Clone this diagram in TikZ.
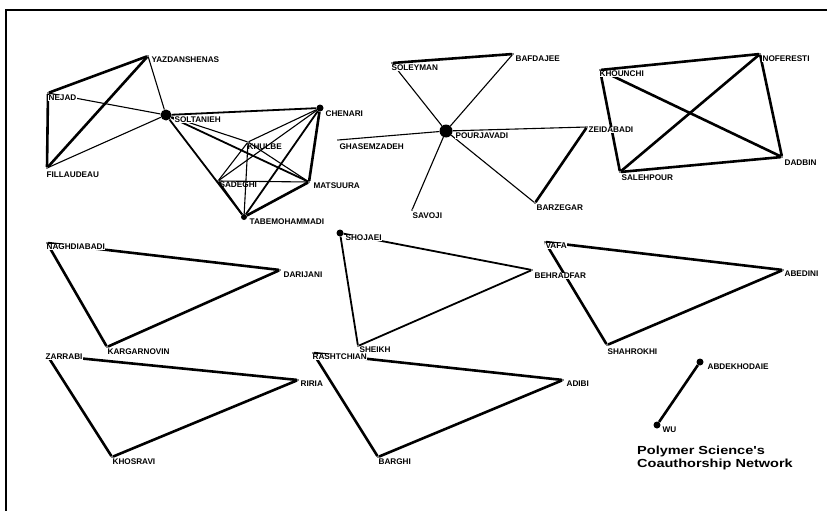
\documentclass[tikz,border=0pt]{standalone}
\usepackage{fontspec}
\setmainfont{Liberation Sans}
\newfontfamily\titlefont[FakeStretch=1.24]{Liberation Sans}
\begin{document}
\begin{tikzpicture}[x=1pt,y=-1pt,
  pt/.style={circle,fill=black,inner sep=0pt,minimum size=1.8pt},
  bigdot/.style={circle,fill=black,inner sep=0pt,minimum size=11pt},
  middot/.style={circle,fill=black,inner sep=0pt,minimum size=7pt},
  lab/.style={anchor=west,font=\fontsize{8.2}{9}\selectfont\bfseries,inner sep=0.4pt,fill=white},
  labn/.style={lab,fill=none},
  thk/.style={line width=2.6pt},
  med/.style={line width=1.8pt},
  thn/.style={line width=1.1pt},
  ttl/.style={anchor=base west,inner sep=0pt,font=\titlefont\bfseries\fontsize{11.7}{13}\selectfont}]
\useasboundingbox (0,0) rectangle (827,511);
\fill[white] (0,0) rectangle (827,511);
\draw[line width=1.4pt] (6,511) -- (6,10) -- (827,10);

% ---- nodes (points) ----
\node[pt] (yaz) at (148,56) {};
\node[pt] (nej) at (48,93) {};
\node[bigdot] (sol) at (166,115) {};
\node[middot] (che) at (320,108) {};
\node[pt] (khu) at (248,142) {};
\node[pt] (fil) at (47,168) {};
\node[pt] (sad) at (218,181) {};
\node[pt] (mat) at (309,182) {};
\node[middot,minimum size=6pt] (tab) at (244,217) {};

\node[pt] (soy) at (392,63) {};
\node[pt] (baf) at (513,54) {};
\node[bigdot,minimum size=13pt] (pou) at (446,131) {};
\node[pt] (gha) at (338,140) {};
\node[pt] (zei) at (587,127) {};
\node[pt] (bar) at (535,203) {};
\node[pt] (sav) at (412,210) {};

\node[pt] (kho) at (600,70) {};
\node[pt] (nof) at (760,54) {};
\node[pt] (sal) at (620,172) {};
\node[pt] (dad) at (782,157) {};

\node[pt] (nag) at (47,243) {};
\node[pt] (dar) at (280,270) {};
\node[pt] (kar) at (107,347) {};

\node[middot] (sho) at (340,233) {};
\node[pt] (beh) at (532,270) {};
\node[pt] (she) at (358,346) {};

\node[pt] (vaf) at (545,242) {};
\node[pt] (abe) at (783,270) {};
\node[pt] (sha) at (607,345) {};

\node[pt] (zar) at (47,355) {};
\node[pt] (rir) at (298,380) {};
\node[pt] (khs) at (112,457) {};

\node[pt] (ras) at (313,353) {};
\node[pt] (adi) at (563,380) {};
\node[pt] (bag) at (378,457) {};

\node[middot] (abd) at (700,362) {};
\node[middot] (wu) at (657,425) {};

% ---- edges ----
\draw[thk] (yaz) -- (nej);
\draw[thk] (yaz) -- (fil);
\draw[thk] (nej) -- (fil);
\draw[thn] (yaz) -- (sol);
\draw[thn] (nej) -- (sol);
\draw[thn] (fil) -- (sol);
\draw[med] (sol) -- (che);
\draw[med] (sol) -- (tab);
\draw[thn] (sol) -- (khu);
\draw[thn] (khu) -- (mat);
\draw[med] (sol) -- (mat);
\draw[thn] (che) -- (khu);
\draw[thn] (che) -- (sad);
\draw[med] (che) -- (tab);
\draw[thk] (che) -- (mat);
\draw[thn] (khu) -- (sad);
\draw[thn] (khu) -- (tab);
\draw[thn] (sad) -- (mat);
\draw[med] (sad) -- (tab);
\draw[thk] (mat) -- (tab);

\draw[thk] (soy) -- (baf);
\draw[thn] (soy) -- (pou);
\draw[thn] (baf) -- (pou);
\draw[thn] (pou) -- (gha);
\draw[thn] (pou) -- (zei);
\draw[thn] (pou) -- (bar);
\draw[thn] (pou) -- (sav);
\draw[thk] (zei) -- (bar);

\draw[thk] (kho) -- (nof);
\draw[thk] (kho) -- (sal);
\draw[thk] (kho) -- (dad);
\draw[thk] (nof) -- (sal);
\draw[thk] (nof) -- (dad);
\draw[thk] (sal) -- (dad);

\draw[thk] (nag) -- (dar);
\draw[thk] (nag) -- (kar);
\draw[thk] (dar) -- (kar);

\draw[med] (sho) -- (beh);
\draw[med] (sho) -- (she);
\draw[med] (beh) -- (she);

\draw[thk] (vaf) -- (abe);
\draw[thk] (vaf) -- (sha);
\draw[thk] (abe) -- (sha);

\draw[thk] (zar) -- (rir);
\draw[thk] (zar) -- (khs);
\draw[thk] (rir) -- (khs);

\draw[thk] (ras) -- (adi);
\draw[thk] (ras) -- (bag);
\draw[thk] (adi) -- (bag);

\draw[thk] (abd) -- (wu);

% ---- labels ----
\node[lab] (yazL) at (151,60) {YAZDANSHENAS};
\node[lab] (nejL) at (48,98) {NEJAD};
\node[lab] (solL) at (174,120) {SOLTANIEH};
\node[lab] (cheL) at (325,114) {CHENARI};
\node[labn] (khuL) at (247,147) {KHULBE};
\node[lab] (filL) at (46,175) {FILLAUDEAU};
\node[labn] (sadL) at (219,185) {SADEGHI};
\node[lab] (matL) at (313,186) {MATSUURA};
\node[lab] (tabL) at (249,222) {TABEMOHAMMADI};

\node[lab] (soyL) at (391,68) {SOLEYMAN};
\node[lab] (bafL) at (515,59) {BAFDAJEE};
\node[lab] (pouL) at (455,136) {POURJAVADI};
\node[lab] (ghaL) at (339,147) {GHASEMZADEH};
\node[lab] (zeiL) at (588,130) {ZEIDABADI};
\node[lab] (barL) at (536,208) {BARZEGAR};
\node[lab] (savL) at (412,216) {SAVOJI};

\node[lab] (khoL) at (599,74) {KHOUNCHI};
\node[lab] (nofL) at (762,59) {NOFERESTI};
\node[lab] (salL) at (621,178) {SALEHPOUR};
\node[lab] (dadL) at (784,163) {DADBIN};

\node[lab] (nagL) at (46,247) {NAGHDIABADI};
\node[lab] (darL) at (283,275) {DARIJANI};
\node[lab] (karL) at (107,352) {KARGARNOVIN};

\node[lab] (shoL) at (345,238) {SHOJAEI};
\node[lab] (behL) at (534,276) {BEHRADFAR};
\node[lab] (sheL) at (359,350) {SHEIKH};

\node[lab] (vafL) at (545,246) {VAFA};
\node[lab] (abeL) at (784,274) {ABEDINI};
\node[lab] (shaL) at (607,352) {SHAHROKHI};

\node[lab] (zarL) at (45,357) {ZARRABI};
\node[lab] (rirL) at (300,384) {RIRIA};
\node[lab] (khsL) at (112,462) {KHOSRAVI};

\node[lab] (rasL) at (312,357) {RASHTCHIAN};
\node[lab] (adiL) at (566,384) {ADIBI};
\node[lab] (bagL) at (378,462) {BARGHI};

\node[lab] (abdL) at (707,367) {ABDEKHODAIE};
\node[lab] (wuL) at (662,430) {WU};

\node[ttl] (t1) at (637,454) {Polymer Science's};
\node[ttl] (t2) at (637,467) {Coauthorship Network};
\end{tikzpicture}
\end{document}
